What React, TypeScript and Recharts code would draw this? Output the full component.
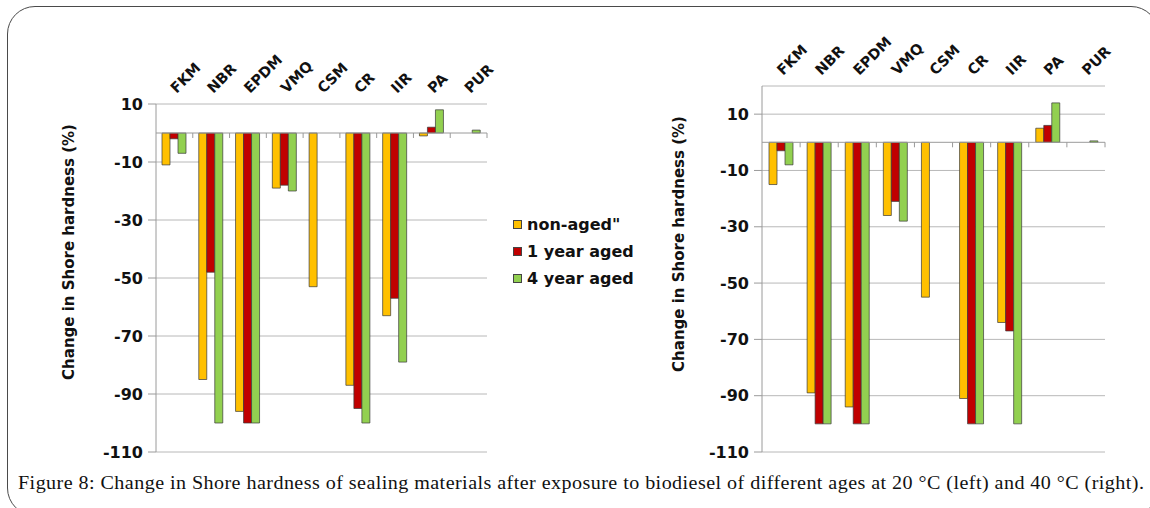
import { BarChart, Bar, XAxis, YAxis, CartesianGrid, ReferenceLine } from 'recharts';

const CATEGORIES = ['FKM', 'NBR', 'EPDM', 'VMQ', 'CSM', 'CR', 'IIR', 'PA', 'PUR'];
const Y_TICKS = [10, -10, -30, -50, -70, -90, -110];

// 20 °C (left)
const LEFT_NON_AGED = [-11, -85, -96, -19, -53, -87, -63, -1, null];
const LEFT_ONE_YEAR = [-2, -48, -100, -18, null, -95, -57, 2, null];
const LEFT_FOUR_YEAR = [-7, -100, -100, -20, null, -100, -79, 8, 1];

// 40 °C (right)
const RIGHT_NON_AGED = [-15, -89, -94, -26, -55, -91, -64, 5, null];
const RIGHT_ONE_YEAR = [-3, -100, -100, -21, null, -100, -67, 6, null];
const RIGHT_FOUR_YEAR = [-8, -100, -100, -28, null, -100, -100, 14, 0.5];

const SERIES = [
    { key: 'nonAged', name: 'non-aged"', color: '#FFC000' },
    { key: 'oneYear', name: '1 year aged', color: '#C00000' },
    { key: 'fourYear', name: '4 year aged', color: '#92D050' },
];

const buildRows = (a: (number | null)[], b: (number | null)[], c: (number | null)[]) =>
    CATEGORIES.map((name, i) => ({ name, nonAged: a[i], oneYear: b[i], fourYear: c[i] }));

const LEFT_DATA = buildRows(LEFT_NON_AGED, LEFT_ONE_YEAR, LEFT_FOUR_YEAR);
const RIGHT_DATA = buildRows(RIGHT_NON_AGED, RIGHT_ONE_YEAR, RIGHT_FOUR_YEAR);

const SANS = '"DejaVu Sans", Arial, sans-serif';
const Y_LABEL = 'Change in Shore hardness (%)';

function CategoryTick(props: any) {
    const { x, y, payload } = props;
    const tx = x + 2;
    return (
        <text
            x={tx}
            y={y}
            transform={`rotate(-45 ${tx} ${y})`}
            fontFamily={SANS}
            fontWeight="bold"
            fontSize={14.5}
            fill="#111"
            textAnchor="start"
        >
            {payload.value}
        </text>
    );
}

// zero line with small tick marks at the category boundaries
function ZeroLine(props: any) {
    const { x1, x2, y1 } = props;
    const step = (x2 - x1) / CATEGORIES.length;
    return (
        <g>
            <line x1={x1} x2={x2} y1={y1} y2={y1} stroke="#9a9a9a" strokeWidth={1} />
            {CATEGORIES.map((c, i) => (
                <line key={c} x1={x1 + step * (i + 1)} x2={x1 + step * (i + 1)} y1={y1} y2={y1 + 5} stroke="#9a9a9a" strokeWidth={1} />
            ))}
        </g>
    );
}

function ShoreChart({ data, width, top, yMax, yWidth, labelX, labelY, right }: any) {
    const yLabel = () => (
        <text
            x={labelX}
            y={labelY}
            transform={`rotate(-90 ${labelX} ${labelY})`}
            textAnchor="middle"
            dominantBaseline="central"
            fill="#111"
            fontSize={15}
            fontWeight="bold"
            fontFamily={SANS}
        >
            {Y_LABEL}
        </text>
    );
    return (
        <BarChart
            width={width}
            height={470}
            data={data}
            margin={{ top: 0, right, left: 0, bottom: 18 }}
            barGap={0}
            barSize={8}
        >
            <CartesianGrid vertical={false} stroke="#b8b8b8" />
            <XAxis
                dataKey="name"
                orientation="top"
                height={top}
                axisLine={false}
                tickLine={false}
                tickSize={0}
                tickMargin={10}
                interval={0}
                tick={<CategoryTick />}
            />
            <YAxis
                domain={[-110, yMax]}
                ticks={Y_TICKS}
                width={yWidth}
                stroke="#9a9a9a"
                tickSize={8}
                tickMargin={5}
                tick={{ fill: '#111', fontSize: 16, fontWeight: 'bold', fontFamily: SANS }}
                label={yLabel}
            />
            {SERIES.map((s) => (
                <Bar
                    key={s.key}
                    dataKey={s.key}
                    name={s.name}
                    fill={s.color}
                    stroke="#3a3a3a"
                    strokeWidth={0.7}
                    isAnimationActive={false}
                />
            ))}
            <ReferenceLine y={0} shape={<ZeroLine />} />
        </BarChart>
    );
}

export default function App() {
    return (
        <div style={{ position: 'fixed', left: 0, top: 0, width: 1150, height: 508, overflow: 'hidden', background: '#fff' }}>
            <div
                style={{
                    position: 'absolute',
                    left: 7,
                    top: 6,
                    width: 1152,
                    height: 510,
                    border: '1.3px solid #4a4a4a',
                    borderRadius: 28,
                    boxSizing: 'border-box',
                }}
            />
            <div style={{ position: 'absolute', left: 0, top: 0 }}>
                <ShoreChart data={LEFT_DATA} width={660} top={104} yMax={10} yWidth={156} labelX={69} labelY={252} right={173} />
            </div>
            <div style={{ position: 'absolute', left: 600, top: 0 }}>
                <ShoreChart data={RIGHT_DATA} width={550} top={86} yMax={20} yWidth={162} labelX={79} labelY={244} right={45} />
            </div>
            <div style={{ position: 'absolute', left: 513, top: 211, fontFamily: SANS, fontWeight: 'bold', fontSize: 16, color: '#111' }}>
                {SERIES.map((s) => (
                    <div key={s.key} style={{ display: 'flex', alignItems: 'center', height: 27 }}>
                        <span style={{ width: 7, height: 7, background: s.color, border: '1px solid #444', marginRight: 5 }} />
                        {s.name}
                    </div>
                ))}
            </div>
            <div
                style={{
                    position: 'absolute',
                    left: 18,
                    top: 473,
                    fontFamily: '"Liberation Serif", serif',
                    fontSize: 18,
                    letterSpacing: 0.4,
                    color: '#111',
                    whiteSpace: 'nowrap',
                    transform: 'scaleX(1.115)',
                    transformOrigin: 'left center',
                }}
            >
                Figure 8: Change in Shore hardness of sealing materials after exposure to biodiesel of different ages at 20 °C (left) and 40 °C (right).
            </div>
        </div>
    );
}
